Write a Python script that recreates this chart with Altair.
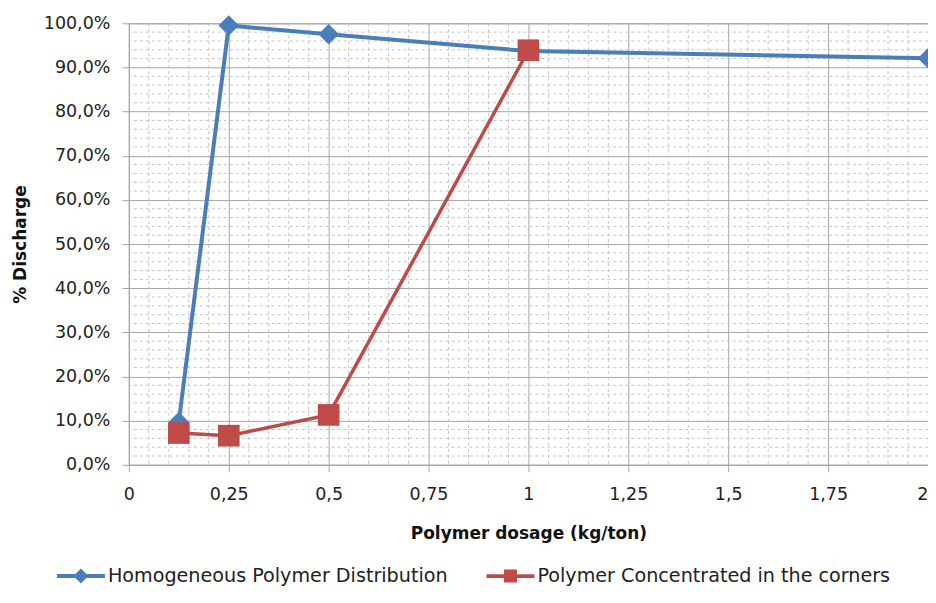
import altair as alt
import pandas as pd

series_a = "Homogeneous Polymer Distribution"
series_b = "Polymer Concentrated in the corners"
x_a = [0.125, 0.25, 0.5, 1.0, 2.0]
y_a = [0.097, 0.995, 0.975, 0.937, 0.921]
x_b = [0.125, 0.25, 0.5, 1.0]
y_b = [0.072, 0.066, 0.113, 0.939]

x_major = [0, 0.25, 0.5, 0.75, 1, 1.25, 1.5, 1.75, 2]
y_major = [i / 10 for i in range(11)]
x_minor = [round(i * 0.05, 2) for i in range(41) if i % 5 != 0]
y_minor = [round(i * 0.02, 2) for i in range(51) if i % 5 != 0]

df = pd.DataFrame({
    "x": x_a + x_b,
    "y": y_a + y_b,
    "s": [series_a] * len(x_a) + [series_b] * len(x_b),
})

FONT = "DejaVu Sans"
blue, red = "#4A7EBB", "#BE4B48"
dom = [series_a, series_b]

xs = alt.Scale(domain=[0, 2], nice=False)
ys = alt.Scale(domain=[0, 1], nice=False)

# legend symbols: a line segment with the series marker on it
sym_a = "M-2.4,-0.2H2.4V0.2H-2.4Z M0,-0.75L0.75,0L0,0.75L-0.75,0Z"
sym_b = "M-2.4,-0.18H2.4V0.18H-2.4Z M-0.65,-0.65H0.65V0.65H-0.65Z"

legend = alt.Legend(title=None, orient="none", direction="horizontal",
                    legendX=-58, legendY=543, columnPadding=38,
                    labelFontSize=19.2, labelFont=FONT, labelColor="#222",
                    symbolSize=400, symbolOpacity=1, symbolStrokeWidth=0,
                    labelOffset=17, labelLimit=500)

minor_x = alt.Chart(pd.DataFrame({"v": x_minor})).mark_rule(
    color="#c4c4c4", strokeDash=[3, 3], strokeWidth=1
).encode(x=alt.X("v:Q", scale=xs))
minor_y = alt.Chart(pd.DataFrame({"v": y_minor})).mark_rule(
    color="#c4c4c4", strokeDash=[3, 3], strokeWidth=1
).encode(y=alt.Y("v:Q", scale=ys))

base = alt.Chart(df)
xenc = alt.X("x:Q", scale=xs,
             axis=alt.Axis(values=x_major, title="Polymer dosage (kg/ton)",
                           labelExpr="replace(format(datum.value, '~g'), '.', ',')",
                           labelAlign=alt.expr("datum.value == 2 ? 'right' : 'center'"),
                           grid=True, gridColor="#a6a6a6", tickSize=7,
                           labelPadding=14, titlePadding=22))
yenc = alt.Y("y:Q", scale=ys,
             axis=alt.Axis(values=y_major, title="% Discharge",
                           labelExpr="replace(format(datum.value, '.1%'), '.', ',')",
                           grid=True, gridColor="#a6a6a6", tickSize=7,
                           labelPadding=12, titlePadding=14))

line_a = base.transform_filter(alt.datum.s == series_a).mark_line(
    strokeWidth=4, color=blue).encode(x=xenc, y=yenc)
line_b = base.transform_filter(alt.datum.s == series_b).mark_line(
    strokeWidth=3.5, color=red).encode(x=alt.X("x:Q", scale=xs), y=alt.Y("y:Q", scale=ys))
pts_a = base.transform_filter(alt.datum.s == series_a).mark_point(
    filled=True, opacity=1, shape="diamond", size=420, color=blue
).encode(x=alt.X("x:Q", scale=xs), y=alt.Y("y:Q", scale=ys))
pts_b = base.transform_filter(alt.datum.s == series_b).mark_point(
    filled=True, opacity=1, shape="square", size=470, color=red
).encode(x=alt.X("x:Q", scale=xs), y=alt.Y("y:Q", scale=ys))

key = base.mark_point(filled=True, opacity=0).encode(
    x=alt.X("x:Q", scale=xs), y=alt.Y("y:Q", scale=ys),
    color=alt.Color("s:N", scale=alt.Scale(domain=dom, range=[blue, red]), legend=legend),
    shape=alt.Shape("s:N", scale=alt.Scale(domain=dom, range=[sym_a, sym_b]), legend=legend),
)

chart = alt.layer(minor_x, minor_y, line_a, line_b, pts_a, pts_b, key).properties(
    width=800, height=442,
    autosize=alt.AutoSizeParams(type="none"),
    padding={"left": 121, "top": 15, "right": 0, "bottom": 125},
).configure_view(stroke="#a6a6a6").configure_axis(
    labelFont=FONT, titleFont=FONT, labelFontSize=17.5, titleFontSize=17,
    labelColor="#222", titleColor="#111", titleFontWeight="bold",
    domainColor="#a6a6a6", tickColor="#a6a6a6",
)

chart.save("out.html", embed_options={"renderer": "svg", "actions": False})
